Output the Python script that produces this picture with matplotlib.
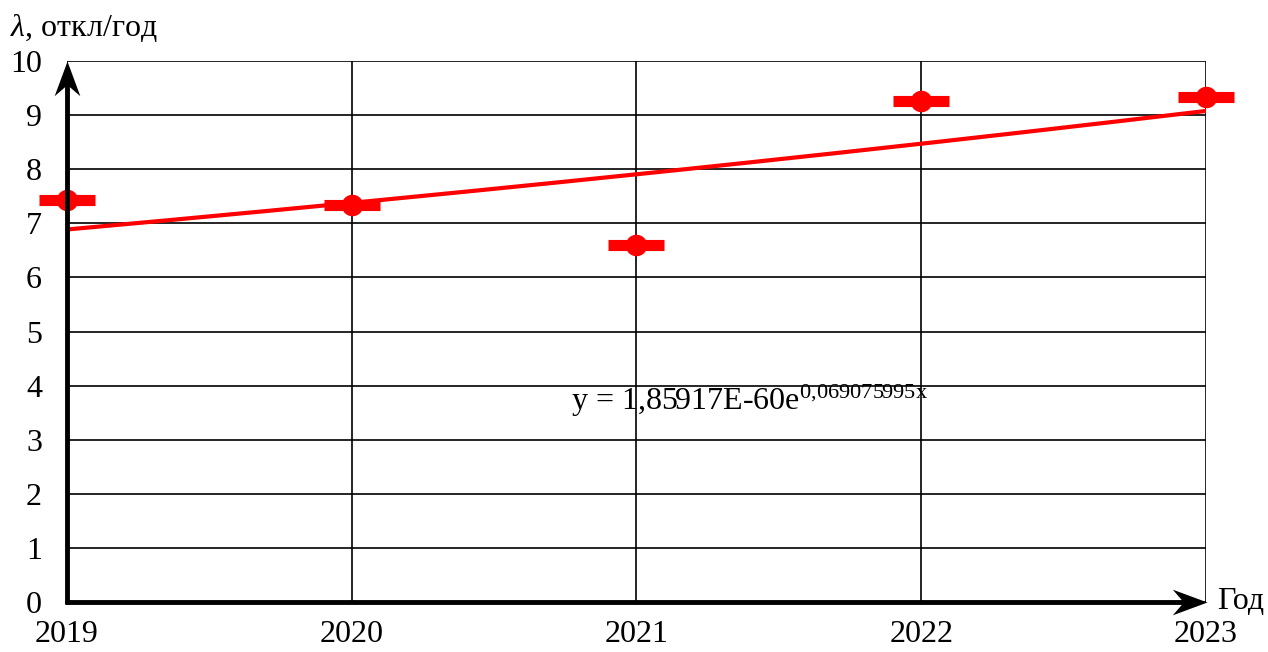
import numpy as np
import matplotlib.pyplot as plt
from matplotlib.path import Path

plt.rcParams['font.family'] = ['Liberation Serif', 'DejaVu Serif']
plt.rcParams['mathtext.fontset'] = 'custom'
plt.rcParams['mathtext.rm'] = 'Liberation Serif'
plt.rcParams['mathtext.it'] = 'Liberation Serif:italic'

years = [2019, 2020, 2021, 2022, 2023]
rate = [7.43, 7.34, 6.60, 9.26, 9.33]   # отказы в год
# exponential trend: y = a*exp(b*x)
a = 1.85917e-60
b = 0.069075995

fig = plt.figure(figsize=(12.68, 6.52), dpi=100)
ax = fig.add_axes([0.0528, 0.0767, 0.8982, 0.8297])

xt = np.linspace(years[0], years[-1], 200)
yt = np.exp(np.log(a) + b * xt)
ax.plot(xt, yt, color='red', lw=3, zorder=3)

ax.plot(years, rate, ls='none', marker='_', ms=40, mew=8, color='red', zorder=4, clip_on=False)
ax.plot(years, rate, ls='none', marker='o', ms=14.5, color='red', mec='red', zorder=5, clip_on=False)

ax.set_xlim(2019, 2023)
ax.set_ylim(0, 10)
ax.set_xticks(years)
ax.set_yticks(range(0, 11))
ax.grid(True, color='black', lw=1.2)
ax.tick_params(length=0, labelsize=23)
ax.tick_params(axis='y', pad=18)
ax.tick_params(axis='x', pad=13)
for s in ax.spines.values():
    s.set_visible(False)

# axis lines with stealth arrow heads
up = Path([(0, 0), (-0.37, -1), (0, -0.68), (0.37, -1), (0, 0)],
          [Path.MOVETO, Path.LINETO, Path.LINETO, Path.LINETO, Path.CLOSEPOLY])
right = Path([(0, 0), (-1, 0.37), (-0.68, 0), (-1, -0.37), (0, 0)],
             [Path.MOVETO, Path.LINETO, Path.LINETO, Path.LINETO, Path.CLOSEPOLY])
ax.plot([0, 0], [-0.003, 0.97], transform=ax.transAxes, color='black', lw=3.5,
        clip_on=False, zorder=6, solid_capstyle='butt')
ax.plot([-0.002, 0.985], [0, 0], transform=ax.transAxes, color='black', lw=3.5,
        clip_on=False, zorder=6, solid_capstyle='butt')
ax.plot([0], [1], transform=ax.transAxes, marker=up, ms=50, color='black', mew=0,
        clip_on=False, zorder=6)
ax.plot([1.001], [0], transform=ax.transAxes, marker=right, ms=50, color='black', mew=0,
        clip_on=False, zorder=6)

ax.text(1.01, 0.0, 'Год', transform=ax.transAxes, fontsize=23, va='center', ha='left')
fig.text(0.008, 0.957, r'$\lambda$, откл/год', fontsize=23, va='center', ha='left')

ax.text(2020.77, 3.55, r'y = 1,85917E-60e$^{\mathrm{0{,}069075995x}}$', fontsize=23,
        va='baseline', ha='left')

fig.savefig('out.png', dpi=100)
